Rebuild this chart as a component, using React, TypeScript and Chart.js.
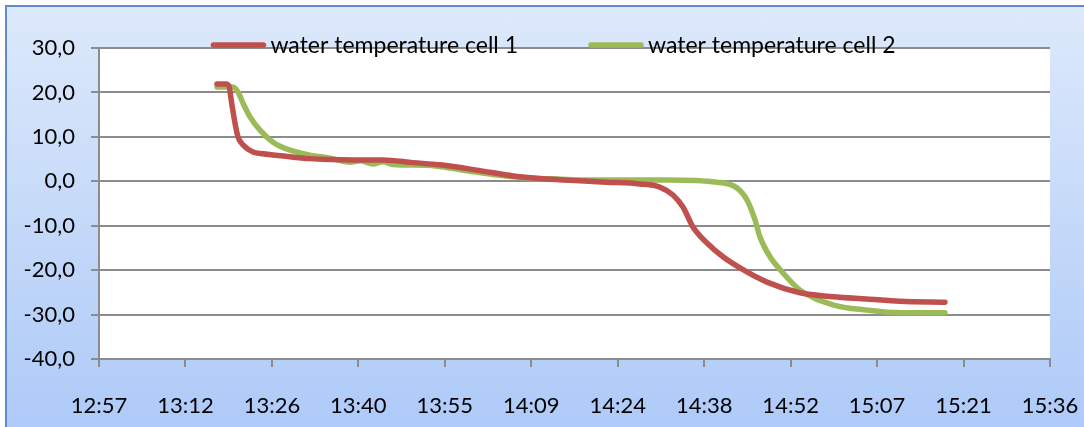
import React, { useEffect, useRef } from 'react';
import { Chart, registerables } from 'chart.js';

Chart.register(...registerables);

const seriesNames = ['water temperature cell 1', 'water temperature cell 2'];
const seriesColors = ['#c0504d', '#9bbb59'];

const cell1Times = [
  '13:17:15', '13:18:45', '13:19:15', '13:19:42', '13:20:15', '13:20:45', '13:21:35',
  '13:23:15', '13:24:55', '13:28:15', '13:32:45', '13:36:35', '13:41:05', '13:44:55',
  '13:49:55', '13:54:25', '14:01:05', '14:06:35', '14:12:10', '14:17:40', '14:22:10',
  '14:27:40', '14:31:00', '14:33:12', '14:34:52', '14:36:32', '14:38:52', '14:41:32',
  '14:44:22', '14:48:52', '14:54:22', '14:59:51', '15:05:30', '15:11:00', '15:18:30',
];
const cell1Values = [
  21.9, 21.9, 21.4, 17.6, 13.1, 10.0, 8.2,
  6.6, 6.2, 5.7, 5.1, 4.9, 4.8, 4.8,
  4.2, 3.7, 2.4, 1.2, 0.5, 0.1, -0.2,
  -0.6, -1.3, -3.1, -5.8, -10.3, -13.9, -17.0,
  -19.5, -22.7, -25.1, -26.0, -26.5, -27.0, -27.2,
];

const cell2Times = [
  '13:17:15', '13:19:55', '13:20:45', '13:21:35', '13:22:45', '13:24:25', '13:26:35',
  '13:29:25', '13:32:45', '13:36:04', '13:39:25', '13:41:05', '13:43:14', '13:44:55',
  '13:46:34', '13:52:14', '13:58:14', '14:03:53', '14:09:23', '14:13:53', '14:19:23',
  '14:32:10', '14:40:32', '14:43:52', '14:45:32', '14:46:52', '14:47:41', '14:49:22',
  '14:51:31', '14:54:22', '14:59:51', '15:05:30', '15:11:00', '15:18:30',
];
const cell2Values = [
  21.2, 21.2, 20.1, 17.6, 14.5, 11.5, 8.8,
  7.0, 5.9, 5.2, 4.3, 4.6, 3.9, 4.4,
  3.8, 3.6, 2.5, 1.4, 0.7, 0.5, 0.3,
  0.3, -0.2, -1.5, -4.2, -8.7, -12.5, -17.0,
  -20.6, -24.5, -27.8, -29.0, -29.6, -29.6,
];

// x axis: Excel time axis 0.54 .. 0.65 day, major unit 0.01 day (14.4 min)
const xMinMinutes = 777.6;
const xMaxMinutes = 936;
const xStepMinutes = 14.4;
const xTickLabels = ['12:57', '13:12', '13:26', '13:40', '13:55', '14:09', '14:24', '14:38', '14:52', '15:07', '15:21', '15:36'];

const yMin = -40;
const yMax = 30;
const yStep = 10;

const FONT = 'Lato';

function toMinutes(t: string): number {
  const [h, m, s] = t.split(':').map(Number);
  return h * 60 + m + (s || 0) / 60;
}

function toPoints(times: string[], values: number[]) {
  return times.map((t, i) => ({ x: toMinutes(t), y: values[i] }));
}

const plotBgPlugin = {
  id: 'plotBg',
  beforeDraw(chart: any) {
    const { ctx, chartArea } = chart;
    ctx.save();
    ctx.fillStyle = '#ffffff';
    ctx.fillRect(chartArea.left, chartArea.top, chartArea.right - chartArea.left, chartArea.bottom - chartArea.top);
    ctx.restore();
  },
};

const legendPlugin = {
  id: 'topLegend',
  afterDraw(chart: any) {
    const ctx = chart.ctx;
    ctx.save();
    ctx.font = `23px ${FONT}`;
    const lineLen = 56;
    const gapLineText = 4;
    const gapItems = 70;
    const widths = chart.data.datasets.map((d: any) => ctx.measureText(d.label).width);
    const total = widths.reduce((a: number, w: number) => a + lineLen + gapLineText + w, 0) + gapItems * (widths.length - 1);
    let x = 553 - total / 2;
    const y = 45;
    chart.data.datasets.forEach((d: any, i: number) => {
      ctx.strokeStyle = d.borderColor;
      ctx.lineWidth = 5.5;
      ctx.lineCap = 'round';
      ctx.beginPath();
      ctx.moveTo(x + 3, y);
      ctx.lineTo(x + lineLen - 3, y);
      ctx.stroke();
      ctx.fillStyle = '#000000';
      ctx.textBaseline = 'middle';
      ctx.textAlign = 'left';
      ctx.fillText(d.label, x + lineLen + gapLineText, y + 1);
      x += lineLen + gapLineText + widths[i] + gapItems;
    });
    ctx.restore();
  },
};

export default function App() {
  const canvasRef = useRef<HTMLCanvasElement | null>(null);

  useEffect(() => {
    document.body.style.margin = '0';
    const canvas = canvasRef.current;
    if (!canvas) return;
    const chart = new Chart(canvas, {
      type: 'line',
      data: {
        datasets: [
          {
            label: seriesNames[0],
            data: toPoints(cell1Times, cell1Values),
            borderColor: seriesColors[0],
            backgroundColor: seriesColors[0],
            borderWidth: 5.5,
            pointRadius: 0,
            cubicInterpolationMode: 'monotone',
            borderCapStyle: 'round',
            borderJoinStyle: 'round',
          },
          {
            label: seriesNames[1],
            data: toPoints(cell2Times, cell2Values),
            borderColor: seriesColors[1],
            backgroundColor: seriesColors[1],
            borderWidth: 5.5,
            pointRadius: 0,
            cubicInterpolationMode: 'monotone',
            borderCapStyle: 'round',
            borderJoinStyle: 'round',
          },
        ],
      },
      options: {
        animation: false,
        responsive: false,
        maintainAspectRatio: false,
        layout: { padding: { left: 0, right: 34, top: 48, bottom: 0 } },
        plugins: {
          legend: { display: false },
          tooltip: { enabled: false },
        },
        scales: {
          x: {
            type: 'linear',
            min: xMinMinutes,
            max: xMaxMinutes,
            afterBuildTicks(scale: any) {
              scale.ticks = xTickLabels.map((_, i) => ({ value: xMinMinutes + i * xStepMinutes }));
            },
            afterFit(scale: any) {
              scale.height = 68;
              scale.paddingLeft = 0;
              scale.paddingRight = 0;
            },
            ticks: {
              autoSkip: false,
              maxRotation: 0,
              padding: 26,
              color: '#000000',
              font: { family: FONT, size: 22 },
              callback: (_v: any, i: number) => xTickLabels[i],
            },
            grid: {
              drawOnChartArea: false,
              drawTicks: true,
              tickLength: 8,
              color: '#8c8c8c',
              lineWidth: 2,
            },
            border: { display: true, color: '#8c8c8c', width: 2 },
          },
          y: {
            min: yMin,
            max: yMax,
            afterFit(scale: any) {
              scale.width = 99;
              scale.paddingTop = 0;
              scale.paddingBottom = 0;
            },
            ticks: {
              stepSize: yStep,
              padding: 16,
              color: '#000000',
              font: { family: FONT, size: 22 },
              callback: (v: any) => Number(v).toFixed(1).replace('.', ','),
            },
            grid: {
              color: '#8c8c8c',
              lineWidth: 2,
              tickLength: 8,
              drawTicks: true,
            },
            border: { display: true, color: '#8c8c8c', width: 2 },
          },
        },
      },
      plugins: [plotBgPlugin, legendPlugin],
    } as any);
    return () => chart.destroy();
  }, []);

  return (
    <div style={{ position: 'absolute', left: 0, top: 0, width: 1084, height: 427, overflow: 'hidden' }}>
      <div
        style={{
          position: 'absolute',
          left: 5,
          top: 5,
          width: 1110,
          height: 450,
          border: '2px solid #5b8dcc',
          background: 'linear-gradient(to bottom, #dde9fb 0%, #c6daf9 45%, #abc8f8 100%)',
        }}
      />
      <canvas ref={canvasRef} width={1084} height={427} style={{ position: 'absolute', left: 0, top: 0 }} />
    </div>
  );
}
